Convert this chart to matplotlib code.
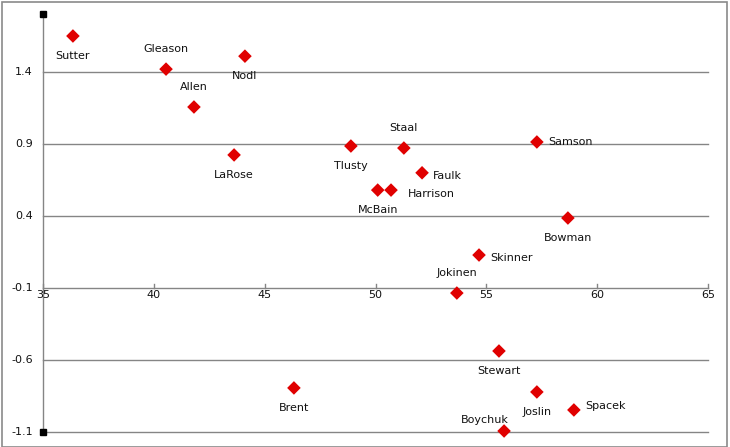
import matplotlib.pyplot as plt
from matplotlib.patches import Rectangle

# player data
names = ["Sutter", "Gleason", "Nodl", "Allen", "LaRose", "Tlusty", "Staal", "Faulk",
         "McBain", "Harrison", "Samson", "Bowman", "Skinner", "Jokinen", "Stewart",
         "Brent", "Joslin", "Spacek", "Boychuk"]
xs = [36.35, 40.55, 44.11, 41.81, 43.62, 48.89, 51.28, 52.10,
      50.10, 50.70, 57.28, 58.68, 54.67, 53.67, 55.57,
      46.32, 57.28, 58.95, 55.80]
ys = [1.65, 1.42, 1.51, 1.157, 0.824, 0.886, 0.872, 0.70,
      0.58, 0.58, 0.914, 0.386, 0.129, -0.135, -0.5375,
      -0.794, -0.822, -0.947, -1.093]
# label placement
where = ["below", "above", "below", "above", "below", "below", "above", "right",
         "below", "harrison", "right0", "below", "right", "above", "below",
         "below", "below", "rightup", "boychuk"]

xticks = [35, 40, 45, 50, 55, 60, 65]
yticks = [-1.1, -0.6, -0.1, 0.4, 0.9, 1.4]

W, H = 730, 447
fig = plt.figure(figsize=(W / 100, H / 100), dpi=100)
ax = fig.add_axes([0, 0, 1, 1])

# pixel mapping: x=35 at px 43, 22.17 px per unit; y=-0.1 at px 288, 144 px per unit
pxx = 665 / 30
pxy = 144
ax.set_xlim(35 - 43 / pxx, 35 + (W - 43) / pxx)
ax.set_ylim(-0.1 - (H - 288) / pxy, -0.1 + 288 / pxy)
ax.axis("off")

grid_c = "#858585"
for v in yticks:
    ax.plot([35, 65], [v, v], color=grid_c, lw=1.0, zorder=1)
    ax.text(35 - 10 / pxx, v, f"{v:g}", ha="right", va="center", fontsize=8, color="#111111")

# y axis line with end handles
ax.plot([35, 35], [-1.1, 1.8], color=grid_c, lw=1.0, zorder=2)
ax.plot([35, 35], [-1.1, 1.8], ls="none", marker="s", ms=4, color="black", zorder=3)

# x axis ticks (upward) and labels
for t in xticks:
    ax.plot([t, t], [-0.1, -0.1 + 4 / pxy], color=grid_c, lw=1.0)
    ax.text(t, -0.1 - 2 / pxy, str(t), ha="center", va="top", fontsize=8, color="#111111")

ax.scatter(xs, ys, marker="D", s=48, color="#e00000", edgecolors="none", zorder=4)

offsets = {
    "below": ((0, -14.5), "center", "center"),
    "above": ((0, 14.5), "center", "center"),
    "right": ((8, -2), "left", "center"),
    "right0": ((8, 0), "left", "center"),
    "rightup": ((8, 3), "left", "center"),
    "harrison": ((12, -3), "left", "center"),
    "boychuk": ((-14, 8), "center", "center"),
}
for n, x, y, w in zip(names, xs, ys, where):
    off, ha, va = offsets[w]
    ax.annotate(n, (x, y), xytext=off, textcoords="offset points",
                ha=ha, va=va, fontsize=8, color="#111111")

# chart border
fig.patches.append(Rectangle((2 / W, 0), (727 - 2) / W, 1 - 1.5 / H, transform=fig.transFigure,
                             fill=False, edgecolor="#8a8a8a", lw=1.2))

fig.savefig("out.png", dpi=100)
